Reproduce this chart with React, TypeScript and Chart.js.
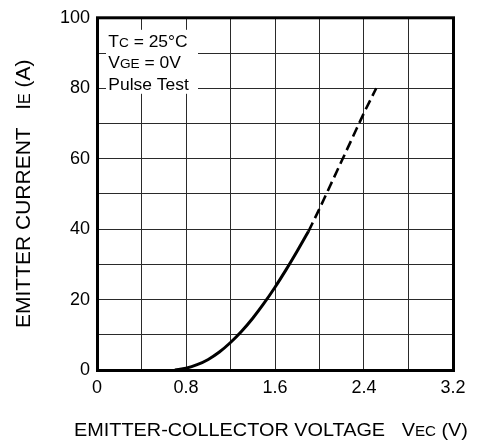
import React, { useEffect, useRef } from "react";
import { Chart, registerables } from "chart.js";

Chart.register(...registerables);

// ---- data ----
const solidV = [0.7, 0.8, 0.9, 1.0, 1.1, 1.2, 1.3, 1.4, 1.5, 1.6, 1.7, 1.8, 1.9];
const solidI = [0, 0.5, 1.5, 3.0, 5.1, 7.8, 11.0, 14.7, 18.9, 23.5, 28.5, 33.8, 39.3];
const dashV = [1.9, 2.0, 2.1, 2.2, 2.3, 2.4, 2.51];
const dashI = [39.3, 45.8, 52.6, 59.4, 66.2, 73.0, 80.0];
const xTickLabels = ["0", "0.8", "1.6", "2.4", "3.2"];
const yTickLabels = ["0", "20", "40", "60", "80", "100"];

type Run = [string, boolean];
const legendLines: Run[][] = [
  [["T", false], ["C", true], [" = 25°C", false]],
  [["V", false], ["GE", true], [" = 0V", false]],
  [["Pulse Test", false]],
];
const xTitleRuns: Run[] = [["EMITTER-COLLECTOR VOLTAGE   V", false], ["EC", true], [" (V)", false]];
const yTitleRuns: Run[] = [["EMITTER CURRENT   I", false], ["E", true], [" (A)", false]];

const FONT = '"Liberation Sans", Arial, Helvetica, sans-serif';

function drawRuns(ctx: CanvasRenderingContext2D, runs: Run[], size: number, subSize: number) {
  let x = 0;
  for (const [t, sub] of runs) {
    ctx.font = `${sub ? subSize : size}px ${FONT}`;
    ctx.fillText(t, x, 0);
    x += ctx.measureText(t).width;
  }
  return x;
}

const overlayPlugin = {
  id: "overlay",
  afterDraw(chart: any) {
    const ctx: CanvasRenderingContext2D = chart.ctx;
    const a = chart.chartArea;
    ctx.save();
    // white legend box
    ctx.fillStyle = "#fff";
    ctx.fillRect(a.left + 9, a.top + 12, 92, 64);
    ctx.fillStyle = "#000";
    ctx.textBaseline = "alphabetic";
    ctx.textAlign = "left";
    legendLines.forEach((runs, i) => {
      ctx.save();
      ctx.translate(a.left + 11.3, a.top + 29 + i * 21.5);
      ctx.scale(1.09, 1);
      drawRuns(ctx, runs, 16, 12.5);
      ctx.restore();
    });
    // x title
    ctx.save();
    ctx.translate(74, 435.5);
    ctx.scale(1.045, 1);
    drawRuns(ctx, xTitleRuns, 19, 14.5);
    ctx.restore();
    // y title
    ctx.save();
    ctx.translate(29.5, 328);
    ctx.rotate(-Math.PI / 2);
    drawRuns(ctx, yTitleRuns, 21, 16);
    ctx.restore();
    // frame
    ctx.strokeStyle = "#000";
    ctx.lineWidth = 3;
    ctx.strokeRect(a.left + 0.5, a.top, a.right - a.left, a.bottom - a.top + 0.5);
    ctx.restore();
  },
};

export default function App() {
  const ref = useRef<HTMLCanvasElement | null>(null);
  useEffect(() => {
    if (!ref.current) return;
    const chart = new Chart(ref.current, {
      type: "line",
      data: {
        datasets: [
          {
            data: solidV.map((v, i) => ({ x: v, y: solidI[i] })),
            borderColor: "#000",
            borderWidth: 3,
            pointRadius: 0,
            cubicInterpolationMode: "monotone",
            fill: false,
          },
          {
            data: dashV.map((v, i) => ({ x: v, y: dashI[i] })),
            borderColor: "#000",
            borderWidth: 2.6,
            borderDash: [10, 5],
            pointRadius: 0,
            cubicInterpolationMode: "monotone",
            fill: false,
          },
        ],
      },
      options: {
        responsive: false,
        animation: false,
        events: [],
        layout: { padding: { left: 0, top: 15, right: 29, bottom: 0 } },
        plugins: { legend: { display: false }, tooltip: { enabled: false }, title: { display: false } },
        scales: {
          x: {
            type: "linear",
            min: 0,
            max: 3.2,
            ticks: {
              stepSize: 0.4,
              autoSkip: false,
              maxRotation: 0,
              padding: 7,
              color: "#000",
              font: { family: FONT, size: 18 },
              callback: (v: any) => {
                const l = xTickLabels.find((s) => Math.abs(parseFloat(s) - Number(v)) < 1e-6);
                return l ?? "";
              },
            },
            grid: { color: "#2a2a2a", lineWidth: 1, drawTicks: false },
            border: { display: false },
            afterFit: (s: any) => {
              s.height = 71;
            },
          },
          y: {
            type: "linear",
            min: 0,
            max: 100,
            ticks: {
              stepSize: 10,
              autoSkip: false,
              padding: 7,
              color: "#000",
              font: { family: FONT, size: 18 },
              callback: (v: any) => {
                const l = yTickLabels.find((s) => Math.abs(parseFloat(s) - Number(v)) < 1e-6);
                return l ?? "";
              },
            },
            grid: { color: "#2a2a2a", lineWidth: 1, drawTicks: false },
            border: { display: false },
            afterFit: (s: any) => {
              s.width = 97;
            },
          },
        },
      },
      plugins: [overlayPlugin],
    } as any);
    return () => chart.destroy();
  }, []);
  return (
    <canvas
      ref={ref}
      width={482}
      height={441}
      style={{ position: "absolute", left: 0, top: 0, width: 482, height: 441, display: "block" }}
    />
  );
}
